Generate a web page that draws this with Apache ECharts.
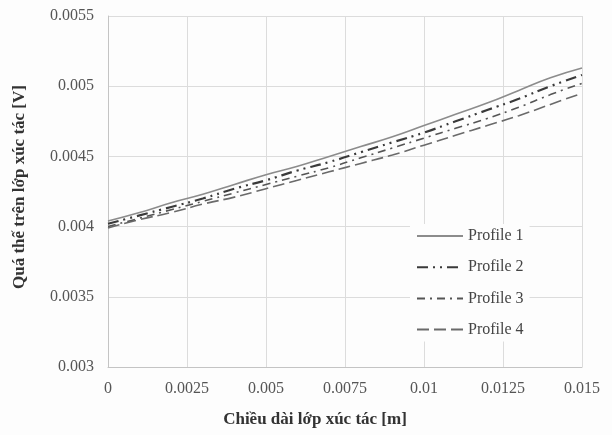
<!DOCTYPE html>
<html>
<head>
<meta charset="utf-8">
<script src="https://cdn.jsdelivr.net/npm/echarts@6/dist/echarts.min.js"></script>
<style>
  html, body { margin: 0; padding: 0; background: #fdfdfd; }
  #chart { width: 612px; height: 435px; }
</style>
</head>
<body>
<div id="chart"></div>
<script>
// Catalyst layer length positions [m]
const positions = [0, 0.001, 0.002, 0.003, 0.004, 0.005, 0.006, 0.007,
                   0.008, 0.009, 0.010, 0.011, 0.012, 0.013, 0.014, 0.015];

// Overpotential along the catalyst layer [V] for each profile
const profile1 = [0.00404, 0.00410, 0.00417, 0.00423, 0.00430, 0.00437, 0.00443, 0.00450,
                  0.00457, 0.00464, 0.00472, 0.00480, 0.00488, 0.00497, 0.00506, 0.00513];
const profile2 = [0.00402, 0.00408, 0.00414, 0.00420, 0.00427, 0.00433, 0.00440, 0.00446,
                  0.00453, 0.00460, 0.00467, 0.00475, 0.00483, 0.00491, 0.00500, 0.00508];
const profile3 = [0.00400, 0.00406, 0.00412, 0.00418, 0.00424, 0.00430, 0.00436, 0.00442,
                  0.00449, 0.00456, 0.00463, 0.00470, 0.00477, 0.00485, 0.00494, 0.00502];
const profile4 = [0.00399, 0.00405, 0.00410, 0.00416, 0.00421, 0.00427, 0.00433, 0.00439,
                  0.00445, 0.00451, 0.00458, 0.00465, 0.00472, 0.00479, 0.00487, 0.00495];

const seriesNames = ['Profile 1', 'Profile 2', 'Profile 3', 'Profile 4'];

// Axis tick labels
const xTickLabels = ['0', '0.0025', '0.005', '0.0075', '0.01', '0.0125', '0.015'];
const yTickLabels = ['0.003', '0.0035', '0.004', '0.0045', '0.005', '0.0055'];

const xTitle = 'Chiều dài lớp xúc tác [m]';
const yTitle = 'Quá thế trên lớp xúc tác [V]';

const toPairs = vals => positions.map((x, i) => [x, vals[i]]);
const pickLabel = (labels, min, step) => v => {
  const i = Math.round((v - min) / step);
  return labels[i] !== undefined ? labels[i] : '';
};

const serif = '"Liberation Serif", "DejaVu Serif", serif';

const lineStyles = [
  { color: '#8c8c8c', width: 1.6, type: 'solid' },
  { color: '#3a3a3a', width: 2.2, type: [11, 5, 2, 5, 2, 5] },
  { color: '#555555', width: 1.6, type: [8, 5, 2, 5] },
  { color: '#6a6a6a', width: 1.6, type: [12, 5] }
];

const chart = echarts.init(document.getElementById('chart'));
chart.setOption({
  backgroundColor: '#fdfdfd',
  animation: false,
  grid: { left: 108, right: 30, top: 16, bottom: 68 },
  xAxis: {
    type: 'value',
    min: 0, max: 0.015, interval: 0.0025,
    axisLine: { show: true, lineStyle: { color: '#c4c4c4', width: 1 } },
    axisTick: { show: false },
    splitLine: { show: true, lineStyle: { color: '#dcdcdc', width: 1 } },
    axisLabel: {
      margin: 14, color: '#555', fontFamily: serif, fontSize: 16,
      formatter: pickLabel(xTickLabels, 0, 0.0025)
    }
  },
  yAxis: {
    type: 'value',
    min: 0.003, max: 0.0055, interval: 0.0005,
    axisLine: { show: true, lineStyle: { color: '#c4c4c4', width: 1 } },
    axisTick: { show: false },
    splitLine: { show: true, lineStyle: { color: '#dcdcdc', width: 1 } },
    axisLabel: {
      margin: 14, color: '#555', fontFamily: serif, fontSize: 16,
      formatter: pickLabel(yTickLabels, 0.003, 0.0005)
    }
  },
  legend: {
    orient: 'vertical',
    left: 410, top: 224,
    itemWidth: 46, itemHeight: 14, itemGap: 15.2,
    backgroundColor: '#fdfdfd',
    padding: [4, 6, 4, 6],
    itemStyle: { opacity: 0 },
    textStyle: { fontFamily: serif, fontSize: 16, color: '#444' },
    data: seriesNames
  },
  graphic: [
    {
      type: 'text', x: 315, y: 420,
      style: { text: xTitle, font: 'bold 17px ' + serif, fill: '#333', textAlign: 'center', textVerticalAlign: 'middle' }
    },
    {
      type: 'text', x: 20, y: 187, rotation: Math.PI / 2,
      style: { text: yTitle, font: 'bold 17px ' + serif, fill: '#333', textAlign: 'center', textVerticalAlign: 'middle' }
    }
  ],
  series: [profile1, profile2, profile3, profile4].map((vals, i) => ({
    name: seriesNames[i],
    type: 'line',
    data: toPairs(vals),
    smooth: true,
    symbol: 'none',
    lineStyle: lineStyles[i],
    itemStyle: { color: lineStyles[i].color },
    z: 4 - i
  }))
});
</script>
</body>
</html>
